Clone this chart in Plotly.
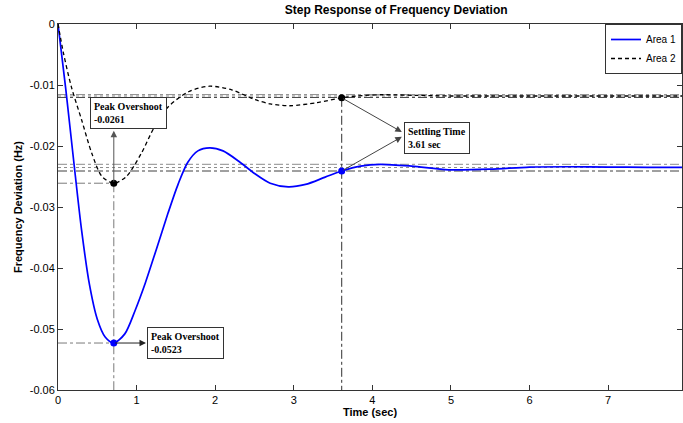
import plotly.graph_objects as go

# ---- response data (time in s, deviation in Hz) ----
t_area1 = [0, 0.10, 0.20, 0.30, 0.40, 0.50, 0.60, 0.71, 0.85, 0.98, 1.11, 1.25, 1.40,
           1.53, 1.65, 1.78, 1.93, 2.10, 2.30, 2.50, 2.70, 2.93, 3.15, 3.40, 3.61,
           3.85, 4.10, 4.50, 4.97, 5.50, 6.00, 6.50, 7.00, 7.50, 7.94]
f_area1 = [0, -0.0108, -0.0225, -0.0338, -0.0427, -0.0484, -0.0513, -0.0523, -0.0508,
           -0.0470, -0.0425, -0.0370, -0.0310, -0.0262, -0.0227, -0.0208, -0.0203,
           -0.0208, -0.0225, -0.0245, -0.0261, -0.0267, -0.0263, -0.0251, -0.0241,
           -0.0233, -0.0230, -0.0233, -0.0239, -0.0238, -0.02345, -0.0234, -0.02345,
           -0.0235, -0.0235]

t_area2 = [0, 0.07, 0.17, 0.30, 0.43, 0.56, 0.71, 0.87, 1.06, 1.23, 1.40, 1.66, 1.93,
           2.21, 2.51, 2.70, 2.95, 3.29, 3.61, 3.80, 4.10, 4.56, 4.97, 5.50, 6.00,
           6.50, 7.00, 7.50, 7.94]
f_area2 = [0, -0.0048, -0.0103, -0.0157, -0.0212, -0.0250, -0.0261, -0.0250, -0.0212,
           -0.0168, -0.0136, -0.0111, -0.0102, -0.0108, -0.0124, -0.0131, -0.0134,
           -0.0129, -0.0121, -0.0118, -0.0116, -0.0117, -0.0118, -0.0118, -0.0118,
           -0.0118, -0.0118, -0.0118, -0.0118]

# characteristic points
peak_time = 0.71
peak_area1 = -0.0523
peak_area2 = -0.0261
settle_time = 3.61
settle_area1 = -0.0241
settle_area2 = -0.0121

# steady-state values and +/-2 % settling bands
steady = {"a1": -0.02353, "a2": -0.0118}
band_a1 = [-0.0230, -0.0241]
band_a2 = [-0.01157, -0.01204]

x_ticks = [0, 1, 2, 3, 4, 5, 6, 7]
y_ticks = [0, -0.01, -0.02, -0.03, -0.04, -0.05, -0.06]
y_ticktext = ["0", "-0.01", "-0.02", "-0.03", "-0.04", "-0.05", "-0.06"]

X_MAX = 7.94
SANS = "Liberation Sans, Arial, sans-serif"
SERIF = "Liberation Serif, Times New Roman, serif"

fig = go.Figure()

fig.add_trace(go.Scatter(x=t_area1, y=f_area1, mode="lines", name="Area 1",
                         line=dict(color="#0000ff", width=1.7, shape="spline", smoothing=0.8)))
fig.add_trace(go.Scatter(x=t_area2, y=f_area2, mode="lines", name="Area 2",
                         line=dict(color="black", width=1.3, dash="4px,3px",
                                   shape="spline", smoothing=0.8)))

# highlighted points
fig.add_trace(go.Scatter(x=[peak_time, settle_time], y=[peak_area2, settle_area2],
                         mode="markers", showlegend=False,
                         marker=dict(color="black", size=7)))
fig.add_trace(go.Scatter(x=[peak_time, settle_time], y=[peak_area1, settle_area1],
                         mode="markers", showlegend=False,
                         marker=dict(color="#0000ff", size=7)))

shapes = []


def hline(y, x0, x1, color, dash, width=1):
    shapes.append(dict(type="line", xref="x", yref="y", x0=x0, x1=x1, y0=y, y1=y,
                       line=dict(color=color, dash=dash, width=width), layer="below"))


def vline(x, y0, y1, color, dash, width=1):
    shapes.append(dict(type="line", xref="x", yref="y", x0=x, x1=x, y0=y0, y1=y1,
                       line=dict(color=color, dash=dash, width=width), layer="below"))


# settling bands
for band, ss in ((band_a2, steady["a2"]), (band_a1, steady["a1"])):
    hline(band[0], 0, X_MAX, "#8c8c8c", "dashdot")
    hline(ss, 0, X_MAX, "#8c8c8c", "dot")
    hline(band[1], 0, X_MAX, "#404040", "dashdot")

# peak guides
hline(peak_area2, 0, peak_time, "#7a7a7a", "dashdot")
hline(peak_area1, 0, peak_time, "#7a7a7a", "dashdot")
vline(peak_time, peak_area2, -0.06, "#7a7a7a", "dashdot")
# settling-time guide
vline(settle_time, settle_area2, -0.06, "#303030", "dashdot")

annotations = []


def box(x, y, text):
    annotations.append(dict(x=x, y=y, xref="x", yref="y", xanchor="left", yanchor="top",
                            text=text, showarrow=False, align="left",
                            font=dict(family=SERIF, size=10, color="black"),
                            bgcolor="white", bordercolor="#333", borderwidth=1,
                            borderpad=3))


def arrow(x_tail, y_tail, x_head, y_head, color="#333"):
    annotations.append(dict(x=x_head, y=y_head, ax=x_tail, ay=y_tail,
                            xref="x", yref="y", axref="x", ayref="y",
                            text="", showarrow=True, arrowhead=2, arrowsize=1.3,
                            arrowwidth=1, arrowcolor=color, standoff=0, startstandoff=0))


box(0.41, -0.0119, "<b>Peak Overshoot</b><br><b>%.4f</b>" % peak_area2)
box(1.135, -0.0497, "<b>Peak Overshoot</b><br><b>%.4f</b>" % peak_area1)
box(4.40, -0.0161, "<b>Settling Time</b><br><b>%.2f sec</b>" % settle_time)

arrow(peak_time, peak_area2, peak_time, -0.0175, "#555")
arrow(peak_time, peak_area1, 1.12, peak_area1, "#222")
arrow(settle_time, settle_area2, 4.375, -0.0177, "#444")
arrow(settle_time, settle_area1, 4.375, -0.0185, "#444")

fig.update_layout(
    width=683, height=423,
    margin=dict(l=58, r=1, t=24, b=33),
    paper_bgcolor="white", plot_bgcolor="white",
    font=dict(family=SANS, size=11, color="black"),
    title=dict(text="<b>Step Response of Frequency Deviation</b>",
               font=dict(family=SANS, size=12, color="black"),
               x=0.542, xanchor="center", y=0.976, yanchor="middle", xref="paper"),
    shapes=shapes,
    annotations=annotations,
    showlegend=True,
    legend=dict(x=1, y=1, xanchor="right", yanchor="top",
                bgcolor="white", bordercolor="#333", borderwidth=1,
                font=dict(family=SANS, size=10, color="black"),
                itemwidth=30, tracegroupgap=0),
)

fig.update_xaxes(range=[0, X_MAX], tickvals=x_ticks, ticks="inside", ticklen=5,
                 tickcolor="#333", showline=True, linecolor="#333", linewidth=1,
                 mirror="ticks", showgrid=False, zeroline=False,
                 tickfont=dict(family=SANS, size=11),
                 title=dict(text="<b>Time (sec)</b>", font=dict(family=SANS, size=11),
                            standoff=2))
fig.update_yaxes(range=[-0.06, 0], tickvals=y_ticks, ticktext=y_ticktext,
                 ticks="inside", ticklen=5, tickcolor="#333", showline=True,
                 linecolor="#333", linewidth=1, mirror="ticks", showgrid=False,
                 zeroline=False, tickfont=dict(family=SANS, size=11),
                 title=dict(text="<b>Frequency Deviation (Hz)</b>",
                            font=dict(family=SANS, size=11), standoff=4))

fig.write_html("out.html")
